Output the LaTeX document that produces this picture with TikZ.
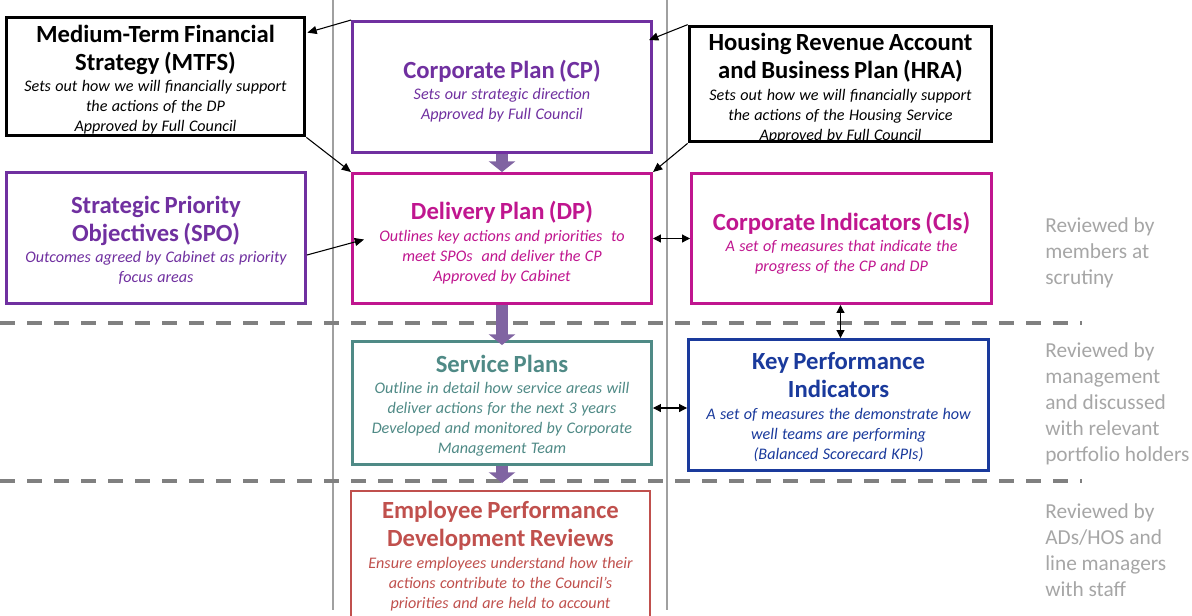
\documentclass[tikz,border=0pt]{standalone}
\usepackage{fontspec}
\setmainfont{Carlito}
\usetikzlibrary{arrows.meta,calc}
\definecolor{cppurple}{HTML}{7030A0}
\definecolor{dpmagenta}{HTML}{C0168F}
\definecolor{spteal}{HTML}{4F8A86}
\definecolor{kpiblue}{HTML}{1A3A9C}
\definecolor{epdred}{HTML}{C0504D}
\definecolor{arrowpurple}{HTML}{8064A2}
\definecolor{notegray}{HTML}{A6A6A6}
\definecolor{vlinegray}{HTML}{A0A0A0}
\definecolor{dashgray}{HTML}{808080}
\newcommand\boxtitle{\fontsize{18.5}{21}\selectfont\bfseries\upshape}
\newcommand\boxsubt{\par\vskip1pt\fontsize{12.1}{15}\selectfont\mdseries\itshape}
\tikzset{
  box/.style={draw=#1, line width=2.2pt, inner sep=0pt, fill=white},
  blkbox/.style={box=black, line width=2.8pt},
  boxtext/.style={inner sep=0pt, align=center, text=#1, text width=225pt},
  sz/.style n args={2}{minimum width=0.75*#1pt, minimum height=0.75*#2pt},
  link/.style={draw=black, line width=0.8pt, -{Triangle[length=7pt,width=6pt]}},
  link2/.style={draw=black, line width=0.8pt, {Triangle[length=6pt,width=6pt]}-{Triangle[length=6pt,width=6pt]}},
  blockarr/.style={draw=arrowpurple, line width=9pt, -{Triangle[length=8pt,width=19.5pt]}},
  vline/.style={draw=vlinegray, line width=0.8pt},
  dashline/.style={draw=dashgray, line width=3pt, dash pattern=on 11.25pt off 9pt},
  note/.style={inner sep=0pt, text=notegray, font=\fontsize{16}{19.5}\selectfont}
}
\begin{document}
\begin{tikzpicture}[x=0.75pt,y=-0.75pt]
\useasboundingbox (0,0) rectangle (1192,615);

% background guide lines
\draw[vline] (333,0) -- (333,610);
\draw[vline] (667,0) -- (667,610);
\draw[dashline] (0,323) -- (1082,323);
\draw[dashline] (0,481) -- (1082,481);

% boxes
\node[blkbox, sz={298}{118}] (mtfs) at (155.5,76.5) {};
\node[boxtext=black] (mtfs-t) at ($(mtfs.center)+(0,3)$)
  {\centering\boxtitle Medium-Term Financial\par Strategy (MTFS)\boxsubt Sets out how we will financially support\par the actions of the DP\par Approved by Full Council\par};
\node[box=cppurple, sz={299}{131}] (cp) at (502,87) {};
\node[boxtext=cppurple] (cp-t) at ($(cp.center)+(0,4)$)
  {\centering\boxtitle Corporate Plan (CP)\boxsubt Sets our strategic direction\par Approved by Full Council\par};
\node[blkbox, sz={302}{115}] (hra) at (840.5,84) {};
\node[boxtext=black] (hra-t) at ($(hra.center)+(0,4)$)
  {\centering\boxtitle Housing Revenue Account\par and Business Plan (HRA)\boxsubt Sets out how we will financially support\par the actions of the Housing Service\par Approved by Full Council\par};
\node[box=cppurple, sz={299}{131}] (spo) at (156,238) {};
\node[boxtext=cppurple] (spo-t) at ($(spo.center)+(0,2)$)
  {\centering\boxtitle Strategic Priority\par Objectives (SPO)\boxsubt Outcomes agreed by Cabinet as priority\par focus areas\par};
\node[box=dpmagenta, sz={299}{130}] (dp) at (502,238.5) {};
\node[boxtext=dpmagenta] (dp-t) at ($(dp.center)+(0,4)$)
  {\centering\boxtitle Delivery Plan (DP)\boxsubt Outlines key actions and priorities\ \ to\par meet SPOs\ \ and deliver the CP\par Approved by Cabinet\par};
\node[box=dpmagenta, sz={300}{130}] (ci) at (841.5,238.5) {};
\node[boxtext=dpmagenta] (ci-t) at ($(ci.center)+(0,4.5)$)
  {\centering\boxtitle Corporate Indicators (CIs)\boxsubt A set of measures that indicate the\par progress of the CP and DP\par};
\node[box=spteal, sz={299}{123}] (sp) at (502,403) {};
\node[boxtext=spteal] (sp-t) at ($(sp.center)+(0,3)$)
  {\centering\boxtitle Service Plans\boxsubt Outline in detail how service areas will\par deliver actions for the next 3 years\par Developed and monitored by Corporate\par Management Team\par};
\node[box=kpiblue, sz={300}{131}] (kpi) at (838.5,405) {};
\node[boxtext=kpiblue] (kpi-t) at ($(kpi.center)+(0,2)$)
  {\centering\boxtitle Key Performance\par Indicators\boxsubt A set of measures the demonstrate how\par well teams are performing\par (Balanced Scorecard KPIs)\par};
\node[box=epdred, sz={299}{128}] (epd) at (500.5,555) {};
\node[boxtext=epdred] (epd-t) at ($(epd.center)+(0,1)$)
  {\centering\boxtitle Employee Performance\par Development Reviews\boxsubt Ensure employees understand how their\par actions contribute to the Council’s\par priorities and are held to account\par};

% right-hand notes
\node[note, anchor=base west] (n1) at (1045,232)
  {\begin{tabular}[t]{@{}l@{}}Reviewed by\\members at\\scrutiny\end{tabular}};
\node[note, anchor=base west] (n2) at (1045,357)
  {\begin{tabular}[t]{@{}l@{}}Reviewed by\\management\\and discussed\\with relevant\\portfolio holders\end{tabular}};
\node[note, anchor=base west] (n3) at (1045,518)
  {\begin{tabular}[t]{@{}l@{}}Reviewed by\\ADs/HOS and\\line managers\\with staff\end{tabular}};

% thin connectors
\draw[link] (cp.north west) -- ($(mtfs.north east)+(1,17)$);
\draw[link] (mtfs.south east) -- (dp.north west);
\draw[link] (hra.north west) -- ($(cp.north east)+(-4,20)$);
\draw[link] (hra.south west) -- (dp.north east);
\draw[link] ($(spo.east)+(0,17)$) -- ($(dp.west)+(13,1)$);
\draw[link2] (dp.east) -- (ci.west);
\draw[link2] ($(ci.south)+(-1,0)$) -- ($(ci.south |- kpi.north)+(-1,0)$);
\draw[link2] ($(sp.east)+(0,5)$) -- ($(kpi.west |- sp.east)+(0,5)$);

% block arrows
\draw[blockarr] (cp.south) -- (dp.north);
\draw[blockarr] (dp.south) -- ($(sp.north)+(0,5)$);
\draw[blockarr] (sp.south) -- ($(sp.south)+(0,17)$);
\end{tikzpicture}
\end{document}
